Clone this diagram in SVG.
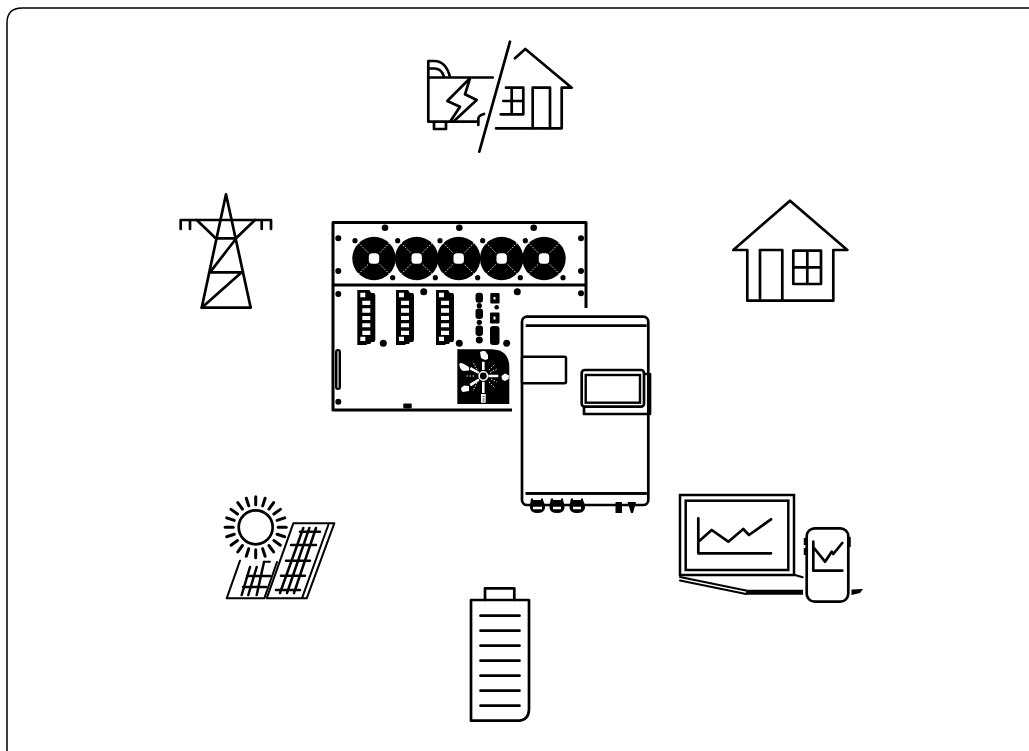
<svg xmlns="http://www.w3.org/2000/svg" xmlns:xlink="http://www.w3.org/1999/xlink" width="1029" height="751" viewBox="0 0 1029 751">
<style>
.l{fill:none;stroke:#000;stroke-width:2.700;stroke-linecap:round;stroke-linejoin:round}
.t{fill:none;stroke:#000;stroke-width:2;stroke-linecap:round;stroke-linejoin:round}
.s{fill:none;stroke:#000;stroke-width:2.500;stroke-linecap:round;stroke-linejoin:round}
.h{fill:none;stroke:#000;stroke-width:3;stroke-linecap:butt;stroke-linejoin:round}
.k{fill:#000}
.w{fill:#fff}
.wl{fill:none;stroke:#fff;stroke-width:.9;stroke-dasharray:1.500 1.500}
</style>
<defs>
<g id="fan">
<circle r="21.700" class="k"/>
<rect x="-5.200" y="-5.200" width="10.400" height="10.400" rx="3.500" class="w"/>
<path class="wl" d="M-6-6L-16-16M6-6L16-16M-6 6L-16 16M6 6L16 16"/>
</g>
<g id="module">
<path class="k" d="M0 0H12L14 3H17L18 5V50L17 52H14L13 54H10L9 55H0Z"/>
<path class="w" d="M3 2.700H8V7.300H3ZM3 46.700H8V51H3Z"/>
<path class="w" d="M5 10.700H13V15H5ZM5 18.300H13V22.700H5ZM5 26H13V30H5ZM5 33.300H13V37.300H5ZM5 40.700H13V45H5Z"/>
</g>
<path id="ray" fill="none" stroke="#000" stroke-width="3" stroke-linecap="round" d="M0-22.500V-30.500"/>
</defs>
<rect width="1029" height="751" fill="#fff"/>
<path id="frame" d="M7 751V23Q7 8 22 8H1029" fill="none" stroke="#000" stroke-width="1.500"/>
<g id="connectors"/>

<g id="backup">
<path class="l" d="M428.300 77V61H434Q446 61 450 77M428.300 68.500H435Q442 69 444 77"/>
<path class="l" d="M428.300 77.500H492.700"/>
<path class="l" d="M428.300 77.500V121.700H478"/>
<path class="l" d="M478.300 125V119Q478.300 115.500 484 114"/>
<path class="l" d="M434 122V129H446V122"/>
<path class="l" d="M470 78.300L447.300 101L460 106.700L450 121.700M470 78.300L465 94.300L476.700 100L453.300 121.700"/>
<path class="l" d="M510 41.700L479.300 151.700"/>
<path class="l" d="M515 58.300L525.300 49L571.700 87.700H561.700V128.300H496"/>
<path class="l" d="M532.700 128V87.700H550V128"/>
<path class="l" d="M506 87.700H523.300V114.300H500.700M503.300 101H523.300M511.700 87.700V114.300"/>
</g>

<g id="grid">
<path class="l" d="M226 194.300L201.700 307.700H250.700Z"/>
<path class="l" d="M180.700 229V220H271V229M190 220V229M261.700 220V229"/>
<path class="l" d="M196.700 220L215.700 238.300H236L255 220"/>
<path class="l" d="M235 240L210 272.300H241.700L201.700 307.700"/>
</g>

<g id="home">
<path class="l" d="M733.300 250L790 200.700L847.300 250H833.300V300.700H747.300V250Z"/>
<path class="l" d="M760 300.700V250H782.300V300.700"/>
<path class="l" d="M793.300 250.700H821V284H793.300ZM807.300 250.700V284M793.300 267.300H821"/>
</g>

<g id="storage-system">
<path class="h" d="M586 308V222.500H333V410H512M333 285H586"/>
<g>
<circle cx="385" cy="227.700" r="3.300" class="k"/><circle cx="459.300" cy="227.700" r="3.300" class="k"/><circle cx="533.700" cy="227.700" r="3.300" class="k"/>
<circle cx="338.300" cy="238.300" r="3" class="k"/><circle cx="338.300" cy="271" r="3" class="k"/><circle cx="581" cy="238.300" r="3" class="k"/><circle cx="581" cy="271" r="3" class="k"/>
<circle cx="355" cy="240.700" r="2.600" class="k"/><circle cx="397.700" cy="240.700" r="2.600" class="k"/><circle cx="440" cy="240.700" r="2.600" class="k"/><circle cx="482.700" cy="240.700" r="2.600" class="k"/><circle cx="525.300" cy="240.700" r="2.600" class="k"/>
<circle cx="392.700" cy="277.700" r="2.600" class="k"/><circle cx="435.300" cy="277.700" r="2.600" class="k"/><circle cx="477.700" cy="277.700" r="2.600" class="k"/><circle cx="520.300" cy="277.700" r="2.600" class="k"/><circle cx="563" cy="277.700" r="2.600" class="k"/>
<circle cx="338.300" cy="294" r="3" class="k"/><circle cx="581" cy="293.300" r="3" class="k"/><circle cx="423.700" cy="291.700" r="3.500" class="k"/><circle cx="517.300" cy="291.700" r="3.500" class="k"/>
<circle cx="383.300" cy="343.300" r="3.500" class="k"/><circle cx="459.300" cy="343.300" r="3.500" class="k"/><circle cx="506.700" cy="343.300" r="3.500" class="k"/><circle cx="338.300" cy="401.700" r="3" class="k"/>
</g>
<use xlink:href="#fan" x="374" y="258.500"/><use xlink:href="#fan" x="416.700" y="258.500"/><use xlink:href="#fan" x="458.700" y="258.500"/><use xlink:href="#fan" x="501.700" y="258.500"/><use xlink:href="#fan" x="544" y="258.500"/>
<use xlink:href="#module" x="357.300" y="290"/><use xlink:href="#module" x="396" y="290"/><use xlink:href="#module" x="436" y="290"/>
<rect x="336" y="350" width="4" height="39" rx="2" fill="#888" stroke="#000" stroke-width="2"/>
<rect x="403.300" y="403.500" width="8.400" height="5" rx="1" class="k"/>
<g class="k">
<rect x="475.500" y="292.700" width="7.500" height="10" rx="3"/><circle cx="479.300" cy="305.700" r="2.600"/><rect x="475.500" y="308.500" width="7.500" height="10.500" rx="3"/><circle cx="479.300" cy="322.300" r="2.600"/><rect x="475.500" y="325.500" width="7.500" height="10.500" rx="3"/><circle cx="479.300" cy="340" r="3.500"/>
<rect x="490.300" y="293" width="9.300" height="10.600" rx="1"/><circle cx="496.700" cy="307.300" r="2.300"/><rect x="490" y="312.400" width="9.500" height="11" rx="1"/><rect x="490" y="326" width="9.500" height="19" rx="3"/>
</g>
<path class="w" d="M493.500 297h2v2.500h-2zM493.500 316.500h2v3h-2z"/>
<g>
<path class="k" d="M457.300 349.300H491.700Q509.300 350 509.300 367V404H457.300Z"/>
<circle cx="483.300" cy="376" r="4.200" fill="none" stroke="#fff" stroke-width="1.600"/>
<path d="M483.300 370V361.700M488.300 376H498.300M483.300 381.700V393" stroke="#fff" stroke-width="2.600" fill="none"/>
<path d="M478.300 373.300L470 369.300L471 367.500L478.800 372ZM478.300 379L470 384L471 386L479 380.500Z" class="w" stroke="#fff" stroke-width=".8"/>
<path d="M480 352Q482 350.500 485 351L488 355V359L485 360L481 358ZM459.300 364Q460 362.500 463 363.500L469 367V370.500L463 371Q459.500 369 459.300 364ZM501.500 376L505 373.500L509 375.500L508.500 379L505 381L502 379.500ZM461 388L464 385.500L469 386V391L463 392Q461 391 461 388ZM481 394H485.700V402.700H481Z" class="w"/>
<path d="M482.500 396.500h2M482.500 399h2M482.500 401h2" stroke="#000" stroke-width=".8"/>
<path class="wl" d="M489 370L495 364M489 382L495 388M477 369.500L473 362M477 382.500L473 391M491 379L497 382M490 372.500L497 369M474 376H465"/>
</g>
</g>

<g id="inverter">
<rect x="522" y="316.700" width="126.300" height="188.300" rx="5" fill="#fff" stroke="#000" stroke-width="2.700"/>
<path d="M525.700 325.700H646.700M525.700 493.300H646.700" stroke="#000" stroke-width="2.700" fill="none"/>
<rect x="522" y="356.700" width="44" height="26.600" rx="1.500" fill="#fff" stroke="#000" stroke-width="2.500"/>
<path d="M584 407V414H650V374H644" class="l"/>
<rect x="581.700" y="370" width="62.300" height="36.700" rx="3" fill="#fff" stroke="#000" stroke-width="2.700"/>
<rect x="585.700" y="375" width="54.300" height="27.700" fill="#fff" stroke="#000" stroke-width="2.400"/>
<g class="k">
<path d="M531 498.500H533V500H541V498.500H543V500L545 505V507Q545 513 537.500 513Q530 513 530 507V505Z"/>
<path d="M551 498.500H553V500H561V498.500H563V500L564.500 505V507Q564.500 513 557 513Q549.500 513 549.500 507V505Z"/>
<path d="M571 498.500H573V500H581V498.500H583V500L585 505V507Q585 513 577 513Q569.500 513 569.500 507V505Z"/>
<path d="M615.500 502H622V513H615.500ZM627.500 502H636L633 513H631Z"/>
</g>
<path d="M533 508H542M553 508H561M573 508H581" stroke="#fff" stroke-width="2.500" fill="none"/>
<path d="M525.700 493.300H646.700" stroke="#000" stroke-width="2.700"/>
</g>

<g id="solar">
<circle cx="255.700" cy="527.300" r="17" class="l"/>
<g transform="translate(255.700 527.300)">
<use xlink:href="#ray"/><use xlink:href="#ray" transform="rotate(18)"/><use xlink:href="#ray" transform="rotate(36)"/><use xlink:href="#ray" transform="rotate(54)"/><use xlink:href="#ray" transform="rotate(72)"/><use xlink:href="#ray" transform="rotate(90)"/><use xlink:href="#ray" transform="rotate(108)"/><use xlink:href="#ray" transform="rotate(126)"/><use xlink:href="#ray" transform="rotate(144)"/><use xlink:href="#ray" transform="rotate(162)"/><use xlink:href="#ray" transform="rotate(180)"/><use xlink:href="#ray" transform="rotate(198)"/><use xlink:href="#ray" transform="rotate(216)"/><use xlink:href="#ray" transform="rotate(234)"/><use xlink:href="#ray" transform="rotate(252)"/><use xlink:href="#ray" transform="rotate(270)"/><use xlink:href="#ray" transform="rotate(288)"/><use xlink:href="#ray" transform="rotate(306)"/><use xlink:href="#ray" transform="rotate(324)"/><use xlink:href="#ray" transform="rotate(342)"/>
</g>
<path class="t" d="M293.300 523.300H334.300L306.700 598.300H266.700ZM328.300 525L302.300 597.300"/>
<path class="s" d="M303.300 528L280 593M309.300 528L287 593M316 528L294 593M300 531.700H320M291 545H316M286 560.700H310M281 575.700H305M276 590H300"/>
<path class="t" d="M240 560.700L226.700 598.300H264.300L277 562M264 561.700H270"/>
<path class="s" d="M250 567L241.700 595M256.700 567L248.300 595M264 562L256.700 595M247 576H270M243 587H266"/>
</g>

<g id="monitoring">
<rect x="680" y="495" width="114" height="80" fill="none" stroke="#000" stroke-width="2.500"/>
<rect x="685.700" y="500.700" width="102.600" height="69.300" fill="none" stroke="#000" stroke-width="2.500"/>
<path class="l" d="M698.300 518.300V553.300H771M699.300 541L711.700 530L728.300 541.700L743.300 529L749 535L771 519.300"/>
<path d="M680 575H795L802.700 577.300" class="t"/>
<path class="t" d="M680 577L746 590.500M680 580.500L746 594"/>
<path d="M746 592.300H803" stroke="#000" stroke-width="5"/>
<rect x="806.700" y="528.300" width="41.600" height="73.400" rx="8" fill="#fff" stroke="#000" stroke-width="2.700"/>
<path class="l" d="M813.300 541.700V570.700H842.300M814 548L825 561.700L831.700 551.700L833.300 554L842.300 543"/>
<path d="M805 538V545M805 548V555M849.500 537V547" stroke="#000" stroke-width="2.500"/>
<path class="k" d="M851.500 589.500L863 589L860 593L851.500 595Z"/>
</g>

<g id="battery">
<path class="l" d="M471 600H529V708.700Q529 720.700 517 720.700H471Z"/>
<path class="l" d="M485 600V588.300H514.300V600"/>
<path class="l" d="M480.500 615.700H519.500M480.500 630.700H519.500M480.500 645.700H519.500M480.500 660.700H519.500M480.500 675.700H519.500M480.500 690.700H519.500M480.500 705.700H519.500"/>
</g>
</svg>
